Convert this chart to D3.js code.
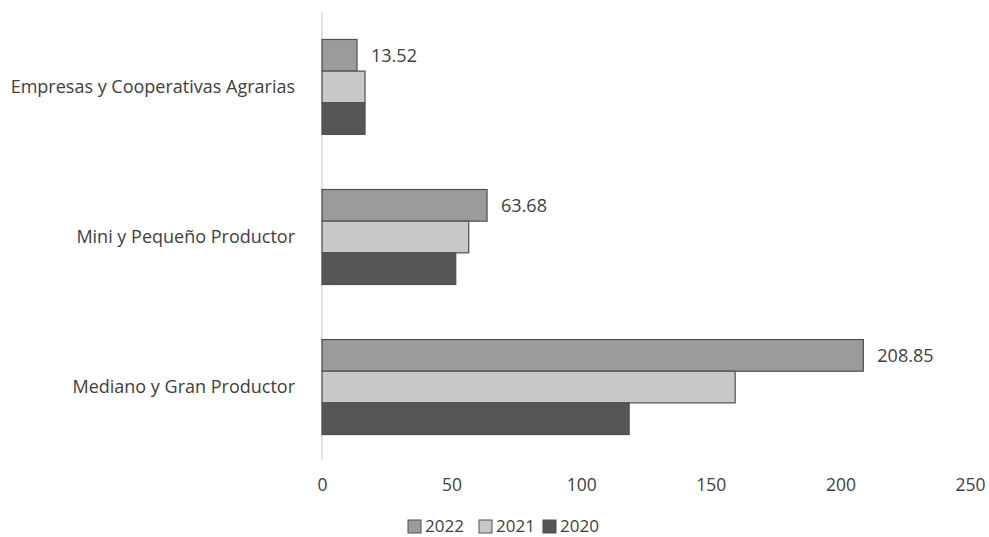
<!DOCTYPE html>
<html>
<head>
<meta charset="utf-8">
<script src="https://cdn.jsdelivr.net/npm/d3@7/dist/d3.min.js"></script>
<style>
  html, body { margin: 0; padding: 0; background: #fff; }
  svg { display: block; }
  text { font-family: "Open Sans", "Noto Sans", sans-serif; fill: #404040; }
</style>
</head>
<body>
<svg id="chart" width="989" height="537"></svg>
<script>
const categories = ["Empresas y Cooperativas Agrarias", "Mini y Pequeño Productor", "Mediano y Gran Productor"];
const series = ["2022", "2021", "2020"];
const values2022 = [13.52, 63.68, 208.85];
const values2021 = [16.6, 56.6, 159.4];
const values2020 = [16.6, 51.6, 118.5];
const xTicks = [0, 50, 100, 150, 200, 250];
const colors = ["#9b9b9b", "#c7c8c9", "#555658"];

const valuesBySeries = [values2022, values2021, values2020];

const svg = d3.select("#chart");
const x = d3.scaleLinear().domain([0, 250]).range([322, 970]);
const y = d3.scaleBand().domain(categories).range([12, 462]).paddingInner(0.367).paddingOuter(0.183);
const ySub = d3.scaleBand().domain(series).range([0, y.bandwidth()]);
const color = d3.scaleOrdinal().domain(series).range(colors);

// vertical axis line
svg.append("line")
  .attr("x1", x(0)).attr("x2", x(0))
  .attr("y1", 12).attr("y2", 460)
  .attr("stroke", "#d9d9d9").attr("stroke-width", 1.5);

const rows = [];
categories.forEach((c, i) => {
  series.forEach((s, j) => {
    rows.push({ cat: c, ser: s, val: valuesBySeries[j][i] });
  });
});

svg.append("g").selectAll("rect").data(rows).join("rect")
  .attr("x", x(0))
  .attr("y", d => y(d.cat) + ySub(d.ser))
  .attr("width", d => x(d.val) - x(0))
  .attr("height", ySub.bandwidth())
  .attr("fill", d => color(d.ser))
  .attr("stroke", "#505050")
  .attr("stroke-width", 1.2);

// data labels for 2022
svg.append("g").selectAll("text").data(rows.filter(d => d.ser === "2022")).join("text")
  .attr("x", d => x(d.val) + 14)
  .attr("y", d => y(d.cat) + ySub(d.ser) + ySub.bandwidth() / 2)
  .attr("dy", "0.35em")
  .attr("font-size", 18)
  .text(d => d3.format(".2f")(d.val));

// category labels
const yAxis = d3.axisLeft(y).tickSize(0).tickPadding(0);
const gy = svg.append("g").attr("transform", `translate(295,0)`).call(yAxis);
gy.select(".domain").remove();
gy.selectAll("text").attr("font-size", 18).attr("fill", "#404040")
  .style("font-family", "'Open Sans', 'Noto Sans', sans-serif");

// x tick labels
const xAxis = d3.axisBottom(x).tickValues(xTicks).tickSize(0).tickPadding(0).tickFormat(d3.format("d"));
const gx = svg.append("g").attr("transform", `translate(0,479)`).call(xAxis);
gx.select(".domain").remove();
gx.selectAll("text").attr("font-size", 17.5).attr("fill", "#404040")
  .style("font-family", "'Open Sans', 'Noto Sans', sans-serif");

// legend
const legendX = [408, 479, 543];
const lg = svg.append("g").selectAll("g").data(series).join("g")
  .attr("transform", (d, i) => `translate(${legendX[i]},520)`);
lg.append("rect").attr("width", 13).attr("height", 13)
  .attr("fill", d => color(d)).attr("stroke", "#505050").attr("stroke-width", 1);
lg.append("text").attr("x", 17).attr("y", 12)
  .attr("font-size", 17).text(d => d);
</script>
</body>
</html>
